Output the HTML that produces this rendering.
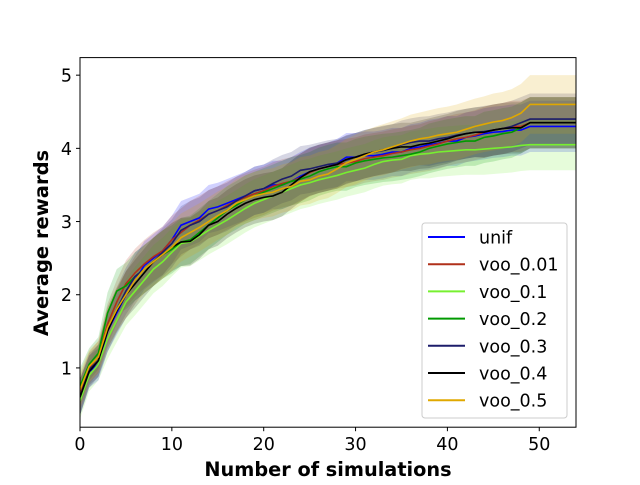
<!DOCTYPE html>
<html><head><meta charset="utf-8"><style>
body{margin:0;background:#fff;}
svg text{font-family:"DejaVu Sans","Liberation Sans",sans-serif;}
</style></head><body>
<svg id="chart" width="640" height="480" xmlns="http://www.w3.org/2000/svg">
<rect width="640" height="480" fill="#fff"/>
<g id="bands"></g><g id="lines"></g><g id="axes"></g><g id="legend"></g>
</svg>
<script>
const xs=[];for(let i=0;i<=54;i++)xs.push(i);
const seriesNames=["unif","voo_0.01","voo_0.1","voo_0.2","voo_0.3","voo_0.4","voo_0.5"];
const seriesColors=["#0000ff","#b0301a","#77f030","#009a00","#1c1c6a","#000000","#e0a800"];
const unif=[0.6,0.95,1.05,1.5,1.75,2.0,2.2,2.4,2.5,2.6,2.75,2.95,3.0,3.05,3.17,3.2,3.25,3.3,3.35,3.42,3.45,3.5,3.5,3.55,3.62,3.68,3.72,3.75,3.8,3.88,3.88,3.9,3.9,3.92,3.95,3.95,4.0,4.02,4.05,4.07,4.1,4.1,4.15,4.17,4.2,4.22,4.23,4.25,4.25,4.3,4.3,4.3,4.3,4.3,4.3];
const voo001=[0.65,1.0,1.15,1.6,1.9,2.15,2.3,2.42,2.52,2.6,2.75,2.85,2.95,3.02,3.1,3.15,3.22,3.28,3.33,3.38,3.42,3.48,3.52,3.55,3.6,3.67,3.72,3.75,3.78,3.8,3.82,3.86,3.88,3.9,3.93,3.95,3.98,4.0,4.03,4.06,4.1,4.13,4.15,4.18,4.22,4.25,4.27,4.3,4.3,4.35,4.35,4.35,4.35,4.35,4.35];
const voo01=[0.55,0.9,1.05,1.4,1.65,1.9,2.05,2.2,2.35,2.45,2.58,2.7,2.72,2.8,2.88,2.95,3.02,3.1,3.18,3.25,3.3,3.35,3.4,3.45,3.5,3.53,3.57,3.6,3.63,3.67,3.7,3.73,3.78,3.82,3.84,3.85,3.9,3.92,3.93,3.95,3.96,3.97,3.98,3.98,3.99,4.0,4.01,4.02,4.04,4.05,4.05,4.05,4.05,4.05,4.05];
const voo02=[0.75,1.05,1.2,1.75,2.05,2.12,2.25,2.35,2.45,2.55,2.62,2.72,2.75,2.85,2.95,3.05,3.15,3.22,3.3,3.35,3.4,3.45,3.5,3.55,3.58,3.62,3.68,3.72,3.75,3.75,3.8,3.83,3.85,3.87,3.88,3.9,3.92,3.95,4.0,4.03,4.06,4.08,4.1,4.1,4.15,4.17,4.2,4.22,4.28,4.35,4.35,4.35,4.35,4.35,4.35];
const voo03=[0.6,0.98,1.1,1.55,1.8,2.05,2.25,2.35,2.45,2.58,2.7,2.88,2.95,3.0,3.1,3.15,3.2,3.28,3.35,3.42,3.45,3.52,3.58,3.62,3.7,3.72,3.75,3.78,3.8,3.84,3.88,3.92,3.95,3.97,4.0,4.05,4.08,4.1,4.1,4.13,4.15,4.18,4.2,4.22,4.23,4.25,4.27,4.3,4.35,4.4,4.4,4.4,4.4,4.4,4.4];
const voo04=[0.6,0.95,1.1,1.5,1.78,2.0,2.15,2.3,2.45,2.55,2.65,2.72,2.73,2.82,2.95,3.0,3.1,3.18,3.25,3.3,3.33,3.35,3.4,3.5,3.6,3.68,3.72,3.75,3.78,3.85,3.88,3.92,3.95,3.98,4.0,4.02,4.02,4.05,4.07,4.1,4.13,4.17,4.2,4.22,4.22,4.25,4.27,4.28,4.28,4.35,4.35,4.35,4.35,4.35,4.35];
const voo05=[0.7,1.02,1.15,1.55,1.8,2.0,2.2,2.35,2.45,2.55,2.65,2.78,2.85,2.92,3.0,3.08,3.15,3.25,3.3,3.35,3.38,3.4,3.45,3.48,3.55,3.57,3.62,3.65,3.72,3.8,3.85,3.9,3.95,3.98,4.02,4.06,4.1,4.13,4.15,4.18,4.2,4.22,4.26,4.3,4.33,4.36,4.38,4.42,4.48,4.6,4.6,4.6,4.6,4.6,4.6];
const sdNarrow=[0.25,0.22,0.22,0.28,0.3,0.32,0.33,0.33,0.33,0.33,0.33,0.33,0.33,0.33,0.33,0.33,0.33,0.33,0.33,0.33,0.33,0.33,0.33,0.33,0.33,0.33,0.33,0.33,0.33,0.33,0.33,0.33,0.33,0.33,0.33,0.33,0.33,0.33,0.34,0.34,0.34,0.34,0.34,0.34,0.35,0.35,0.35,0.35,0.35,0.35,0.35,0.35,0.35,0.35,0.35];
const sdWide=[0.25,0.22,0.22,0.28,0.3,0.32,0.33,0.33,0.33,0.33,0.33,0.33,0.33,0.33,0.33,0.33,0.33,0.33,0.33,0.33,0.33,0.33,0.33,0.33,0.33,0.33,0.33,0.33,0.33,0.33,0.34,0.34,0.34,0.35,0.35,0.35,0.36,0.36,0.37,0.37,0.37,0.38,0.38,0.38,0.38,0.39,0.39,0.39,0.4,0.4,0.4,0.4,0.4,0.4,0.4];
const seriesValues=[unif,voo001,voo01,voo02,voo03,voo04,voo05];
const seriesSd=[sdNarrow,sdNarrow,sdNarrow,sdNarrow,sdNarrow,sdNarrow,sdWide];
const xTicks=[0,10,20,30,40,50];
const yTicks=[1,2,3,4,5];
const X0=80,X1=576,Y0=427.2,Y1=57.6,xMin=0,xMax=54,yMin=0.19,yMax=5.24;
const sx=v=>X0+(v-xMin)/(xMax-xMin)*(X1-X0);
const sy=v=>Y0-(v-yMin)/(yMax-yMin)*(Y0-Y1);
const NS="http://www.w3.org/2000/svg";
function mk(t,a,p){const e=document.createElementNS(NS,t);for(const k in a)e.setAttribute(k,a[k]);p.appendChild(e);return e;}
const bands=document.getElementById('bands'),lines=document.getElementById('lines'),axes=document.getElementById('axes'),legend=document.getElementById('legend');
const clip=mk('clipPath',{id:'pc'},document.getElementById('chart'));mk('rect',{x:X0,y:Y1,width:X1-X0,height:Y0-Y1},clip);
bands.setAttribute('clip-path','url(#pc)');lines.setAttribute('clip-path','url(#pc)');
seriesValues.forEach((vals,s)=>{
  const sd=seriesSd[s];
  let up=xs.map((x,i)=>sx(x)+','+sy(vals[i]+sd[i]));
  let dn=xs.map((x,i)=>sx(x)+','+sy(vals[i]-sd[i])).reverse();
  const b=mk('polygon',{points:up.concat(dn).join(' '),fill:seriesColors[s],'fill-opacity':0.18},bands);
  
  
});
seriesValues.forEach((vals,s)=>{
  const l=mk('polyline',{points:xs.map((x,i)=>sx(x)+','+sy(vals[i])).join(' '),fill:'none',stroke:seriesColors[s],'stroke-width':1.6},lines);
  
  
});
const frame=mk('rect',{x:X0,y:Y1,width:X1-X0,height:Y0-Y1,fill:'none',stroke:'#000','stroke-width':1},axes);


xTicks.forEach(t=>{
  mk('line',{x1:sx(t),x2:sx(t),y1:Y0,y2:Y0+4,stroke:'#000'},axes);
  const tx=mk('text',{x:sx(t),y:Y0+23,'text-anchor':'middle','font-size':17.5},axes);tx.textContent=t;
  
  
});
yTicks.forEach(t=>{
  mk('line',{x1:X0-4,x2:X0,y1:sy(t),y2:sy(t),stroke:'#000'},axes);
  const tx=mk('text',{x:X0-8,y:sy(t)+6.5,'text-anchor':'end','font-size':17.5},axes);tx.textContent=t;
  
  
});
const xl=mk('text',{x:328,y:476,'text-anchor':'middle','font-size':19.3,'font-weight':'bold'},axes);xl.textContent='Number of simulations';


const yl=mk('text',{x:0,y:0,'text-anchor':'middle','font-size':19.5,'font-weight':'bold',transform:'translate(48,243) rotate(-90)'},axes);yl.textContent='Average rewards';


const lb=mk('rect',{x:422,y:223,width:145,height:195,rx:3,fill:'#fff','fill-opacity':0.8,stroke:'#ccc'},legend);


seriesNames.forEach((n,s)=>{
  const y=237+s*27.2;
  const g=mk('g',{},legend);
  
  
  mk('line',{x1:428,x2:465,y1:y,y2:y,stroke:seriesColors[s],'stroke-width':2},g);
  const t=mk('text',{x:479,y:y+6.5,'font-size':17.5},g);t.textContent=n;
});
</script>
</body></html>
